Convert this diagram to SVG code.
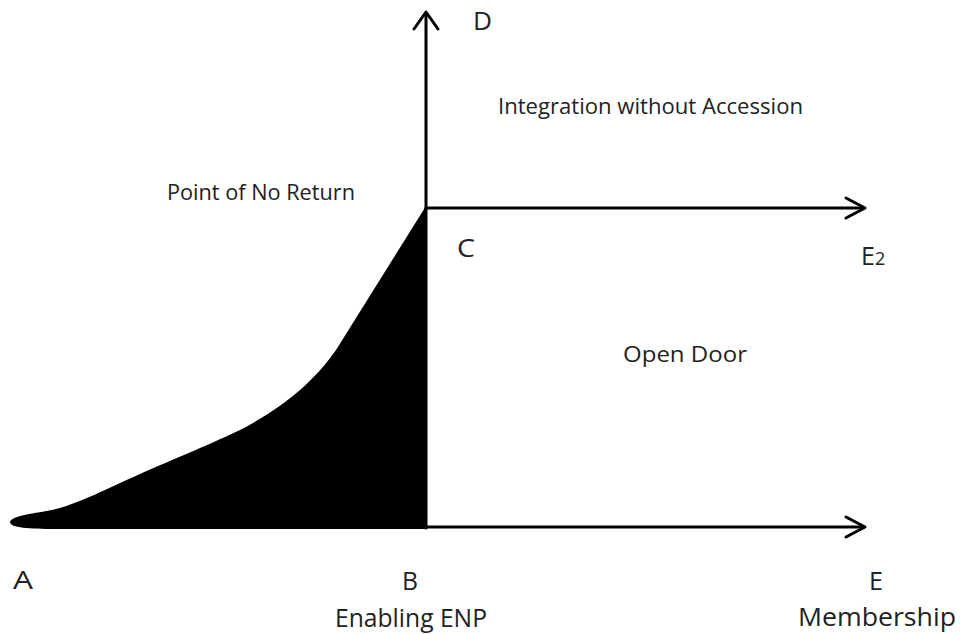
<svg xmlns="http://www.w3.org/2000/svg" width="960" height="634" viewBox="0 0 960 634">
<style>
.ax{stroke:#000;stroke-width:3;fill:none;stroke-linecap:round;stroke-linejoin:round}
.lbl{font-family:"Open Sans","Liberation Sans",sans-serif;fill:#222;font-size:25px}
.sm{font-family:"Open Sans","Liberation Sans",sans-serif;fill:#222;font-size:21px}
</style>
<rect width="960" height="634" fill="#fff"/>
<g id="region">
<path d="M426,206 L336,350 C312,384 282,408 240,430 C202,448 176,458 140,474 C104,490 82,502 56,509 C34,514 12,515 10,522 C10,528 30,529 55,529 L427,529 L427,206 Z" fill="#000"/>
</g>
<g id="connectors">
<path class="ax" d="M426,528 L426,13"/>
<path class="ax" d="M414,29 L426,12 L438,29"/>
<path class="ax" d="M426,208 L864,208"/>
<path class="ax" d="M846,198 L865,208 L846,218"/>
<path class="ax" d="M426,527 L864,527"/>
<path class="ax" d="M846,517 L865,527 L846,537"/>
</g>
<g id="A"><text class="lbl" x="13" y="589" textLength="20" lengthAdjust="spacingAndGlyphs">A</text></g>
<g id="B"><text class="lbl" x="402" y="590" textLength="16" lengthAdjust="spacingAndGlyphs">B</text>
<text class="lbl" x="335" y="627" textLength="152" lengthAdjust="spacingAndGlyphs">Enabling ENP</text></g>
<g id="E"><text class="lbl" x="869" y="590" textLength="14" lengthAdjust="spacingAndGlyphs">E</text>
<text class="lbl" x="798" y="626" font-size="24" textLength="158" lengthAdjust="spacingAndGlyphs">Membership</text></g>
<g id="C"><text class="lbl" x="457" y="257" textLength="18" lengthAdjust="spacingAndGlyphs">C</text></g>
<g id="D"><text class="lbl" x="473" y="30" textLength="19" lengthAdjust="spacingAndGlyphs">D</text></g>
<g id="E2"><text class="lbl" x="861" y="265">E<tspan font-size="18">2</tspan></text></g>
<g id="integration"><text class="sm" x="498" y="114" textLength="305" lengthAdjust="spacingAndGlyphs">Integration without Accession</text></g>
<g id="noreturn"><text class="sm" x="167" y="200" textLength="188" lengthAdjust="spacingAndGlyphs">Point of No Return</text></g>
<g id="opendoor"><text class="sm" x="623" y="362" textLength="124" lengthAdjust="spacingAndGlyphs">Open Door</text></g>
</svg>
